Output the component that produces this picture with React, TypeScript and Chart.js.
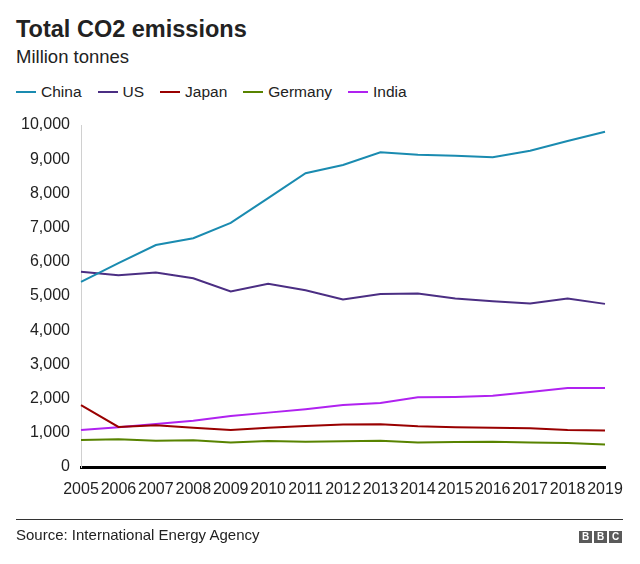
import React, { useEffect, useRef } from "react";
import { Chart, registerables } from "chart.js";

Chart.register(...registerables);

const years = ["2005","2006","2007","2008","2009","2010","2011","2012","2013","2014","2015","2016","2017","2018","2019"];
const china = [5410, 5960, 6490, 6690, 7140, 7860, 8590, 8830, 9200, 9130, 9100, 9060, 9250, 9530, 9800];
const us = [5710, 5610, 5690, 5520, 5130, 5360, 5170, 4900, 5060, 5070, 4930, 4850, 4780, 4930, 4770];
const japan = [1810, 1170, 1220, 1150, 1080, 1150, 1200, 1240, 1250, 1190, 1160, 1150, 1130, 1080, 1070];
const germany = [790, 810, 770, 780, 720, 760, 740, 750, 770, 720, 730, 740, 720, 700, 660];
const india = [1080, 1160, 1260, 1350, 1490, 1590, 1690, 1810, 1870, 2040, 2050, 2080, 2190, 2310, 2310];
const seriesNames = ["China", "US", "Japan", "Germany", "India"];
const seriesColors = ["#1a8bb0", "#4b2e83", "#990000", "#588300", "#b022f0"];
const yTicks = [0, 1000, 2000, 3000, 4000, 5000, 6000, 7000, 8000, 9000, 10000];

const FONT = "'Liberation Sans', Arial, Helvetica, sans-serif";

export default function App() {
  const ref = useRef<HTMLCanvasElement | null>(null);

  useEffect(() => {
    document.body.style.margin = "0";
    const values = [china, us, japan, germany, india];
    const chart = new Chart(ref.current as HTMLCanvasElement, {
      type: "line",
      data: {
        labels: years,
        datasets: seriesNames.map((name, i) => ({
          label: name,
          data: values[i],
          borderColor: seriesColors[i],
          backgroundColor: seriesColors[i],
          borderWidth: 2,
          pointRadius: 0,
          tension: 0,
          fill: false,
        })),
      },
      options: {
        animation: false,
        responsive: false,
        maintainAspectRatio: false,
        layout: { padding: { top: 125, left: 0, right: 35, bottom: 56 } },
        plugins: { legend: { display: false }, tooltip: { enabled: false } },
        scales: {
          x: {
            offset: false,
            grid: { display: false, drawTicks: false },
            border: { display: true, color: "#000000", width: 3 },
            ticks: {
              color: "#222222",
              font: { family: FONT, size: 16 },
              padding: 13,
              autoSkip: false,
              maxRotation: 0,
              minRotation: 0,
            },
            afterFit: (s: any) => { s.height = 41; },
          },
          y: {
            min: 0,
            max: 10000,
            grid: { display: false, drawTicks: false },
            border: { display: true, color: "#d0d0d0", width: 1 },
            afterBuildTicks: (s: any) => { s.ticks = yTicks.map((v) => ({ value: v })); },
            ticks: {
              color: "#222222",
              font: { family: FONT, size: 16 },
              padding: 11,
              callback: (v: any) => Number(v).toLocaleString("en-US"),
            },
            afterFit: (s: any) => { s.width = 81; },
          },
        },
      },
    });
    return () => chart.destroy();
  }, []);

  return (
    <div style={{ position: "relative", width: 640, height: 564, background: "#fff", fontFamily: FONT, color: "#222" }}>
      <div style={{ position: "absolute", left: 16, top: 15, fontSize: 23.5, fontWeight: "bold", lineHeight: "28px", whiteSpace: "nowrap" }}>
        Total CO2 emissions
      </div>
      <div style={{ position: "absolute", left: 16, top: 46, fontSize: 18.5, lineHeight: "22px", whiteSpace: "nowrap" }}>
        Million tonnes
      </div>
      <div style={{ position: "absolute", left: 16, top: 82, height: 20, display: "flex", alignItems: "center", whiteSpace: "nowrap" }}>
        {seriesNames.map((n, i) => (
          <div key={n} style={{ display: "flex", alignItems: "center", marginRight: 16 }}>
            <span style={{ display: "inline-block", width: 20, height: 2, background: seriesColors[i], marginRight: 5 }} />
            <span style={{ fontSize: 15.5, lineHeight: "20px" }}>{n}</span>
          </div>
        ))}
      </div>
      <canvas ref={ref} width={640} height={564} style={{ position: "absolute", left: 0, top: 0, width: 640, height: 564 }} />
      <div style={{ position: "absolute", left: 16, top: 519, width: 607, height: 0, borderTop: "1.5px solid #333" }} />
      <div style={{ position: "absolute", left: 16, top: 525, fontSize: 15, lineHeight: "20px", whiteSpace: "nowrap" }}>
        Source: International Energy Agency
      </div>
      <div style={{ position: "absolute", left: 579, top: 531, display: "flex" }}>
        {["B", "B", "C"].map((c, i) => (
          <div key={i} style={{ width: 13, height: 12, marginLeft: i ? 2 : 0, background: "#5a5a5a", color: "#fff", fontSize: 10, fontWeight: "bold", lineHeight: "12px", textAlign: "center" }}>
            {c}
          </div>
        ))}
      </div>
    </div>
  );
}
